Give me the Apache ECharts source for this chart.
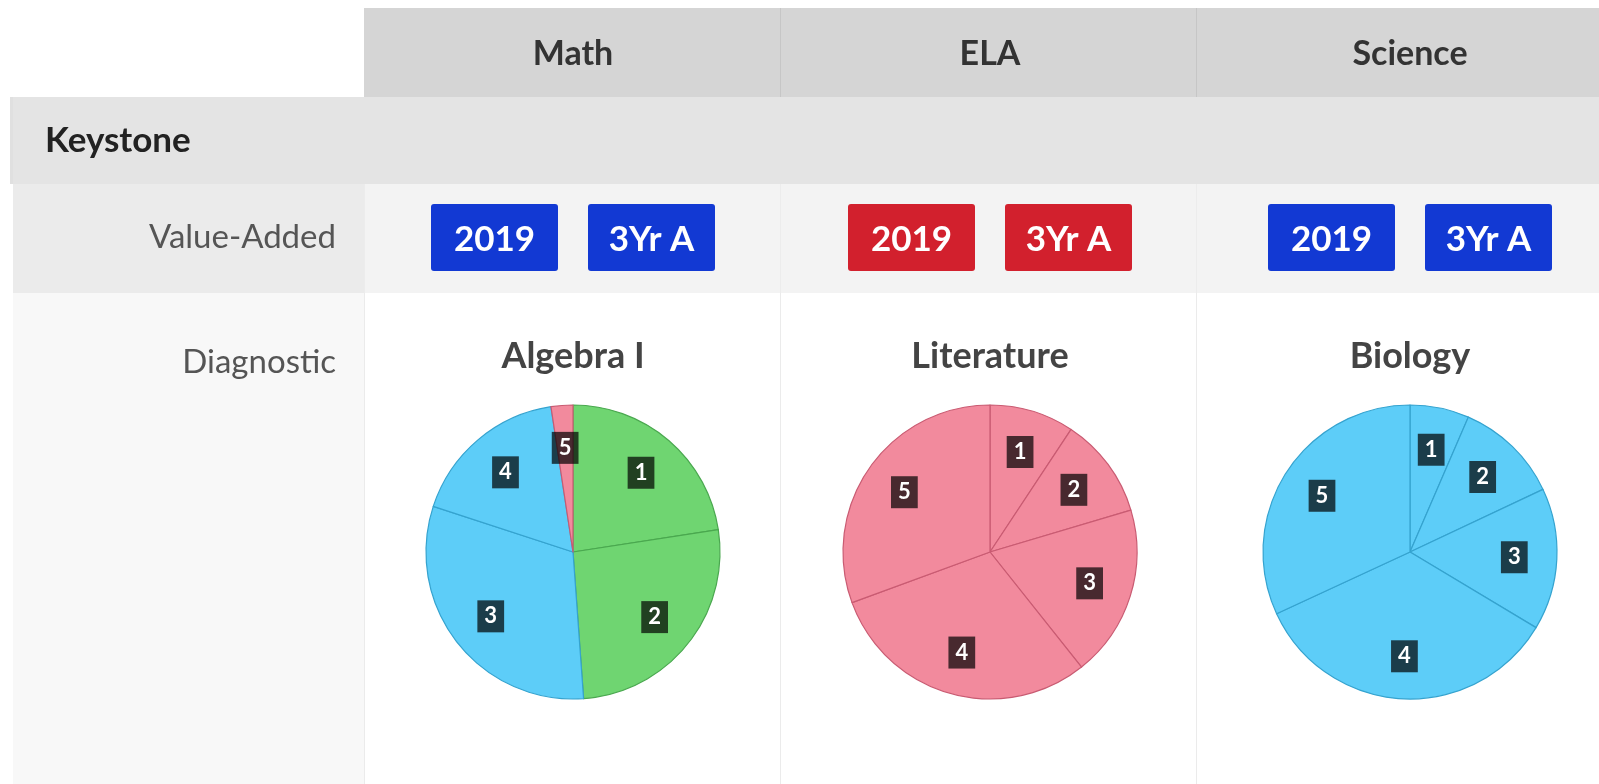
<!DOCTYPE html>
<html lang="en">
<head>
    <meta charset="UTF-8">
    <title>Keystone</title>
    <script src="https://cdn.jsdelivr.net/npm/echarts@6.0.0/dist/echarts.min.js"></script>
    <style>
        html, body { margin: 0; padding: 0; background: #fff; }
        #chart { width: 1599px; height: 784px; }
    </style>
</head>
<body>
    <div id="chart"></div>

    <script>
        // table text
        const columns = ['Math', 'ELA', 'Science'];
        const subjects = ['Algebra I', 'Literature', 'Biology'];
        const rowLabels = ['Value-Added', 'Diagnostic'];
        const badgeLabels = ['2019', '3Yr A'];
        const badgeColors = ['#1239d3', '#d2202d', '#1239d3'];

        // pie data (share of students per level)
        const levels = ['1', '2', '3', '4', '5'];
        const algebraValues = [22.6, 26.3, 31.2, 17.6, 2.4];
        const literatureValues = [9.3, 11.1, 18.9, 30.1, 30.6];
        const biologyValues = [6.5, 11.5, 15.6, 34.5, 31.9];

        const green = '#6fd571', blue = '#5dcdf8', pink = '#f28a9d';
        const algebraColors = [green, green, blue, blue, pink];
        const literatureColors = [pink, pink, pink, pink, pink];
        const biologyColors = [blue, blue, blue, blue, blue];
        const borderOf = { [green]: '#4aa84f', [blue]: '#35a3cf', [pink]: '#c95b72' };

        const chart = echarts.init(document.getElementById('chart'));

        // layout
        const colCenter = [573, 990, 1410];
        const pieY = 552;
        const pieR = 147;
        const FONT = 'Lato, "Noto Sans", sans-serif';

        const graphics = [];
        function rect(x, y, w, h, fill) {
            graphics.push({ type: 'rect', shape: { x, y, width: w, height: h }, style: { fill }, z: 0, silent: true });
        }
        function line(x1, y1, x2, y2, stroke) {
            graphics.push({ type: 'line', shape: { x1, y1, x2, y2 }, style: { stroke, lineWidth: 1 }, z: 1, silent: true });
        }
        function text(str, x, y, opts) {
            graphics.push({
                type: 'text', z: 3, silent: true,
                style: Object.assign({ text: str, x, y, fontFamily: FONT, textVerticalAlign: 'middle' }, opts)
            });
        }

        // backgrounds
        rect(364, 8, 1235, 89, '#d5d5d5');
        rect(10, 97, 1589, 87, '#e0e0e0');
        rect(13, 97, 1586, 87, '#e4e4e4');
        rect(13, 184, 351, 109, '#ebebeb');
        rect(364, 184, 1235, 109, '#f3f3f3');
        rect(13, 293, 351, 491, '#f8f8f8');
        rect(364, 293, 1235, 491, '#ffffff');
        line(780.5, 8, 780.5, 97, '#c6c6c6');
        line(1196.5, 8, 1196.5, 97, '#c6c6c6');
        [364.5, 780.5, 1196.5].forEach(x => {
            line(x, 184, x, 293, '#ececec');
            line(x, 293, x, 784, '#ebebeb');
        });

        // header + row labels
        columns.forEach((c, i) => text(c, colCenter[i], 54, { fontSize: 34, fontWeight: 'bold', fill: '#333', textAlign: 'center' }));
        text('Keystone', 45, 141, { fontSize: 35, fontWeight: 'bold', fill: '#222', textAlign: 'left' });
        text(rowLabels[0], 336, 237, { fontSize: 33, fill: '#555', textAlign: 'right' });
        text(rowLabels[1], 336, 362, { fontSize: 33, fill: '#555', textAlign: 'right' });

        // badges
        const badgeW = 127, badgeH = 67, badgeGap = 30;
        columns.forEach((c, i) => {
            const left = colCenter[i] - (badgeW * 2 + badgeGap) / 2;
            badgeLabels.forEach((b, j) => {
                const x = left + j * (badgeW + badgeGap);
                graphics.push({
                    type: 'rect', z: 2, silent: true,
                    shape: { x, y: 204, width: badgeW, height: badgeH, r: 3 },
                    style: { fill: badgeColors[i] }
                });
                text(b, x + badgeW / 2, 240, { fontSize: 35, fontWeight: 'bold', fill: '#fff', textAlign: 'center' });
            });
        });

        // subject titles
        subjects.forEach((s, i) => text(s, colCenter[i], 356, { fontSize: 36, fontWeight: 'bold', fill: '#444', textAlign: 'center' }));

        // pies
        const pieSets = [
            [algebraValues, algebraColors],
            [literatureValues, literatureColors],
            [biologyValues, biologyColors]
        ];
        const series = [];
        pieSets.forEach(([values, colors], i) => {
            const data = levels.map((l, k) => ({
                name: l,
                value: values[k],
                itemStyle: { color: colors[k], borderColor: borderOf[colors[k]] }
            }));
            series.push({
                type: 'pie',
                center: [colCenter[i], pieY],
                radius: [0, pieR],
                startAngle: 90,
                clockwise: true,
                silent: true,
                animation: false,
                itemStyle: { borderWidth: 1.2 },
                label: { show: false },
                labelLine: { show: false },
                data
            });
            // transparent ring only to place labels at ~0.69 r
            series.push({
                type: 'pie',
                center: [colCenter[i], pieY],
                radius: [pieR * 0.38, pieR],
                startAngle: 90,
                clockwise: true,
                silent: true,
                animation: false,
                itemStyle: { color: 'transparent', borderWidth: 0 },
                label: {
                    show: true,
                    position: 'inside',
                    formatter: '{b}',
                    color: '#fff',
                    fontFamily: FONT,
                    fontWeight: 'bold',
                    fontSize: 22,
                    lineHeight: 22,
                    backgroundColor: 'rgba(0,0,0,0.7)',
                    padding: [5, 7, 5, 7]
                },
                labelLine: { show: false },
                data: levels.map((l, k) => ({ name: l, value: values[k] }))
            });
        });

        chart.setOption({
            animation: false,
            graphic: { elements: graphics },
            series
        });

        window.addEventListener('resize', function() {
            chart.resize();
        });
    </script>
</body>
</html>
